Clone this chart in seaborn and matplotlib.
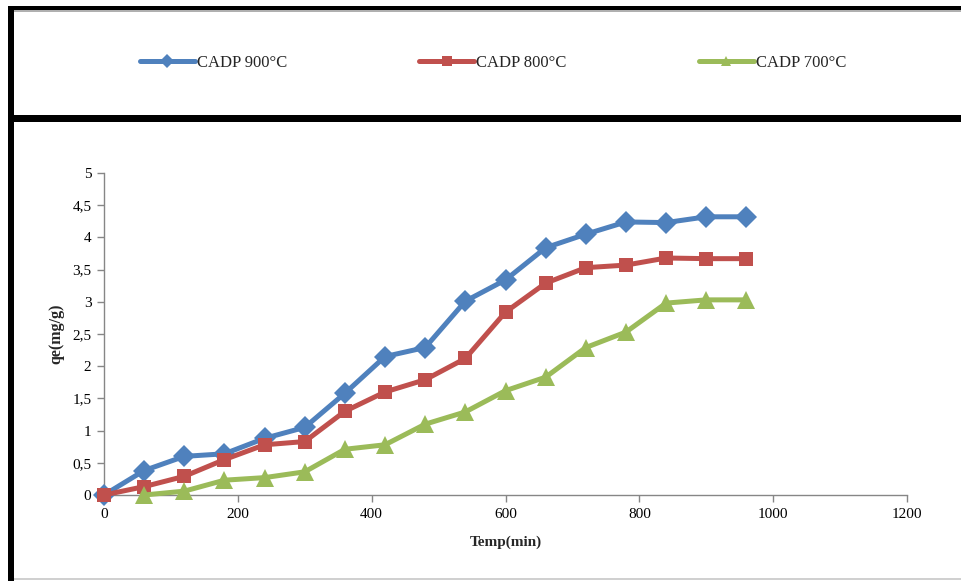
import matplotlib
matplotlib.use("Agg")
import matplotlib.pyplot as plt
import pandas as pd
import seaborn as sns
from matplotlib.lines import Line2D
from matplotlib.patches import Rectangle

# Contact time (min) and adsorbed quantity qe (mg/g)
time_900 = [0, 60, 120, 180, 240, 300, 360, 420, 480, 540, 600, 660, 720, 780, 840, 900, 960]
qe_900 = [0.0, 0.38, 0.60, 0.64, 0.88, 1.05, 1.58, 2.15, 2.29, 3.01, 3.34, 3.84, 4.05, 4.24, 4.23, 4.32, 4.32]

time_800 = [0, 60, 120, 180, 240, 300, 360, 420, 480, 540, 600, 660, 720, 780, 840, 900, 960]
qe_800 = [0.0, 0.13, 0.29, 0.55, 0.78, 0.83, 1.30, 1.60, 1.79, 2.12, 2.84, 3.29, 3.53, 3.57, 3.68, 3.67, 3.67]

time_700 = [60, 120, 180, 240, 300, 360, 420, 480, 540, 600, 660, 720, 780, 840, 900, 960]
qe_700 = [0.0, 0.06, 0.23, 0.27, 0.36, 0.71, 0.78, 1.10, 1.29, 1.62, 1.83, 2.29, 2.53, 2.98, 3.03, 3.03]

series_labels = ["CADP 900°C", "CADP 800°C", "CADP 700°C"]
series_colors = ["#4F81BD", "#C0504D", "#9BBB59"]
series_markers = ["D", "s", "^"]
marker_sizes = [11.5, 10.5, 12.5]

x_ticks = [0, 200, 400, 600, 800, 1000, 1200]
y_ticks = [0, 0.5, 1, 1.5, 2, 2.5, 3, 3.5, 4, 4.5, 5]
y_tick_labels = ["0", "0,5", "1", "1,5", "2", "2,5", "3", "3,5", "4", "4,5", "5"]

sns.set_theme(style="white")
plt.rcParams["font.family"] = ["Liberation Serif", "DejaVu Serif"]

W, H = 961, 581
fig = plt.figure(figsize=(W / 100, H / 100), dpi=100)
fig.patch.set_facecolor("white")

def fx(px):
    return px / W

def fy(py):
    return 1 - py / H

ax = fig.add_axes([fx(104), fy(495), fx(907) - fx(104), fy(173) - fy(495)])

frames = []
for t, q, lab in zip([time_900, time_800, time_700], [qe_900, qe_800, qe_700], series_labels):
    frames.append(pd.DataFrame({"time": t, "qe": q, "series": lab}))
data = pd.concat(frames, ignore_index=True)

for lab, col, mk, ms in zip(series_labels, series_colors, series_markers, marker_sizes):
    sub = data[data["series"] == lab]
    sns.lineplot(data=sub, x="time", y="qe", ax=ax, color=col, linewidth=3.6,
                 marker=mk, markersize=ms, markeredgewidth=0, markerfacecolor=col,
                 clip_on=False, legend=False, zorder=3)

ax.set_xlim(0, 1200)
ax.set_ylim(0, 5)
ax.set_xticks(x_ticks)
ax.set_xticklabels([str(v) for v in x_ticks])
ax.set_yticks(y_ticks)
ax.set_yticklabels(y_tick_labels)

for side in ["top", "right"]:
    ax.spines[side].set_visible(False)
for side in ["left", "bottom"]:
    ax.spines[side].set_color("#868686")
    ax.spines[side].set_linewidth(1.0)

ax.tick_params(axis="both", which="major", direction="out", length=5, width=1,
               color="#868686", labelsize=11, labelcolor="black", pad=4,
               left=True, bottom=True)

ax.set_xlabel("Temp(min)", fontsize=11, fontweight="bold", labelpad=11)
ax.set_ylabel("qe(mg/g)", fontsize=11.5, fontweight="bold", labelpad=6)

# Legend strip across the top panel
handles = [Line2D([0], [0], color=c, linewidth=3.6, marker=m, markersize=7,
                  markeredgewidth=0, markerfacecolor=c)
           for c, m in zip(series_colors, series_markers)]
fig.legend(handles, series_labels, loc="center", bbox_to_anchor=(fx(493), fy(63)),
           ncol=3, frameon=False, fontsize=12, handlelength=3.3, handletextpad=0.15,
           columnspacing=7.9)

# Panel frame lines
def band(x0, y0, x1, y1, color):
    fig.add_artist(Rectangle((fx(x0), fy(y1)), fx(x1) - fx(x0), fy(y0) - fy(y1),
                             transform=fig.transFigure, facecolor=color,
                             edgecolor="none", zorder=10))

band(8, 6, W, 10, "black")
band(14, 10, W, 11.5, "#B0B0B0")
band(8, 115, W, 122, "black")
band(8, 6, 14, H, "black")
band(14, 578, W, 580, "#D0D0D0")

fig.savefig("out.png", dpi=100, facecolor="white")
